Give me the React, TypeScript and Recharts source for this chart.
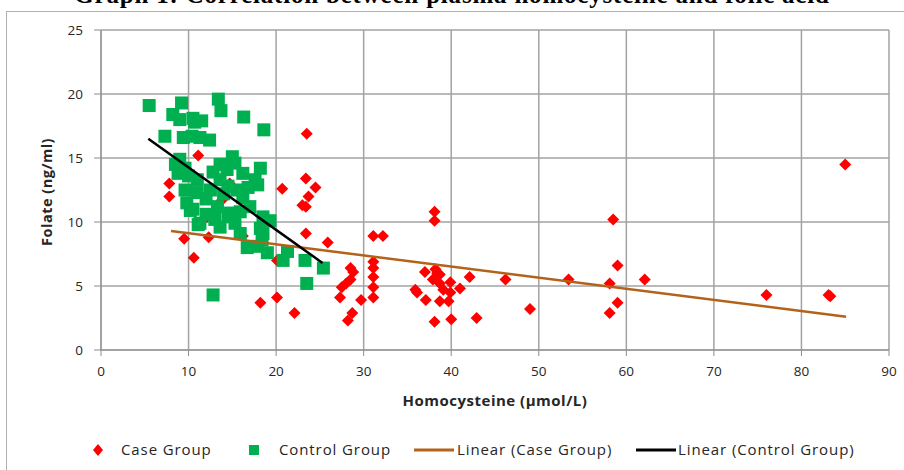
import React from "react";
import { CartesianGrid, Scatter, ScatterChart, XAxis, YAxis } from "recharts";

// homocysteine (x) vs folate (y)
const casePoints: [number, number][] = [
  [7.8, 13.0], [7.8, 12.0], [9.5, 8.7], [10.6, 7.2], [11.1, 15.2], [12.3, 8.8],
  [12.2, 12.1], [13.8, 11.7], [12.1, 10.4], [14.7, 13.0], [16.2, 8.9], [18.2, 3.7],
  [20.1, 4.1], [20.1, 7.0], [22.1, 2.9], [20.7, 12.6], [23.5, 16.9], [23.4, 13.4],
  [24.5, 12.7], [23.7, 12.0], [23.0, 11.3], [23.4, 11.2], [23.4, 9.1], [25.9, 8.4],
  [27.3, 4.1], [27.5, 4.9], [28.0, 5.2], [28.5, 5.5], [28.5, 6.4], [28.8, 6.1],
  [28.7, 2.9], [28.2, 2.3], [29.7, 3.9], [31.1, 8.9], [32.2, 8.9], [31.1, 6.9],
  [31.1, 6.4], [31.1, 5.7], [31.1, 4.9], [31.1, 4.1], [35.9, 4.7], [36.1, 4.5],
  [37.0, 6.1], [37.1, 3.9], [37.9, 5.5], [38.1, 10.8], [38.1, 10.1], [38.2, 6.3],
  [38.4, 6.0], [38.7, 5.9], [38.7, 5.2], [38.7, 3.8], [38.1, 2.2], [39.1, 4.7],
  [39.7, 3.8], [39.9, 5.3], [39.9, 4.5], [40.0, 2.4], [41.0, 4.8], [42.1, 5.7],
  [42.9, 2.5], [46.2, 5.5], [49.0, 3.2], [53.4, 5.5], [58.5, 10.2], [59.0, 6.6],
  [58.1, 5.2], [59.0, 3.7], [58.1, 2.9], [62.1, 5.5], [76.0, 4.3], [83.1, 4.3],
  [83.3, 4.2], [85.0, 14.5],
];

const controlPoints: [number, number][] = [
  [5.5, 19.1], [7.3, 16.7], [8.2, 18.4], [9.2, 19.3], [9.0, 18.0], [10.5, 18.1],
  [10.7, 17.8], [11.5, 17.9], [13.4, 19.6], [13.7, 18.7], [16.3, 18.2], [18.6, 17.2],
  [9.4, 16.6], [10.4, 16.7], [11.3, 16.6], [12.4, 16.4], [8.5, 14.5], [9.0, 14.9],
  [9.6, 14.2], [8.8, 13.8], [10.0, 13.6], [11.0, 13.3], [12.8, 13.9], [13.6, 14.5],
  [14.4, 14.1], [15.0, 15.1], [15.3, 14.6], [16.2, 13.8], [18.2, 14.2], [17.6, 13.3],
  [16.8, 12.7], [16.2, 11.9], [13.6, 13.3], [14.5, 12.8], [9.6, 12.5], [11.0, 12.3],
  [9.8, 11.5], [10.5, 11.0], [12.0, 11.8], [13.3, 11.2], [14.7, 10.7], [15.9, 10.8],
  [17.0, 11.2], [18.5, 10.4], [19.3, 10.1], [11.3, 9.9], [12.0, 10.6], [13.0, 10.2],
  [13.6, 9.6], [14.5, 10.4], [15.3, 9.9], [15.9, 9.1], [17.9, 12.9], [18.2, 9.5],
  [18.5, 9.1], [16.7, 8.0], [17.9, 8.1], [19.0, 7.6], [18.4, 8.6], [20.8, 7.0],
  [21.3, 7.7], [23.3, 7.0], [23.5, 5.2], [25.4, 6.4], [12.8, 4.3], [10.2, 10.9],
  [11.1, 9.8], [14.0, 12.2], [15.5, 12.5], [12.5, 12.5],
];

// end points of the two linear trend lines
const caseTrend: [number, number][] = [[8.0, 9.3], [85.1, 2.6]];
const controlTrend: [number, number][] = [[5.4, 16.5], [25.3, 6.8]];

const xTicks = [0, 10, 20, 30, 40, 50, 60, 70, 80, 90];
const yTicks = [0, 5, 10, 15, 20, 25];

const toRows = (pts: [number, number][]) => pts.map(([x, y]) => ({ x, y }));

const RED = "#ff0000";
const GREEN = "#00b050";
const BROWN = "#b4621a";
const GRID = "#a3a3a3";
const FONT = "'Open Sans', sans-serif";

const Diamond = (props: any) => {
  const { cx, cy } = props;
  if (cx == null || cy == null) return null;
  return (
    <polygon
      points={`${cx},${cy - 6} ${cx + 6},${cy} ${cx},${cy + 6} ${cx - 6},${cy}`}
      fill={RED}
    />
  );
};

const Square = (props: any) => {
  const { cx, cy } = props;
  if (cx == null || cy == null) return null;
  return <rect x={cx - 6.5} y={cy - 6.5} width={13} height={13} fill={GREEN} />;
};

const NoDot = () => <g />;

const tickStyle = { fill: "#262626", fontSize: 13.5, fontFamily: FONT };

const legendText = { position: "absolute" as const, top: -1, letterSpacing: 0.9 };

export default function App() {
  return (
    <div
      style={{
        position: "absolute",
        left: 0,
        top: 0,
        width: 904,
        height: 470,
        overflow: "hidden",
        background: "#fff",
      }}
    >
      <div
        style={{
          position: "absolute",
          left: 6,
          top: 11,
          width: 910,
          height: 480,
          border: "1px solid #b0b0b0",
        }}
      />
      <div
        style={{
          position: "absolute",
          left: 0,
          width: 904,
          top: -20,
          textAlign: "center",
          fontFamily: "'Liberation Serif', serif",
          fontWeight: "bold",
          fontSize: 25,
          letterSpacing: 0.8,
          lineHeight: "30px",
          color: "#000",
          whiteSpace: "nowrap",
        }}
      >
        Graph 1: Correlation between plasma homocysteine and folic acid
      </div>
      <div style={{ position: "absolute", left: 0, top: 0 }}>
        <ScatterChart
          width={904}
          height={470}
          margin={{ top: 30, right: 15, bottom: 90, left: 41 }}
        >
          <CartesianGrid stroke={GRID} strokeWidth={1.5} />
          <XAxis
            type="number"
            dataKey="x"
            domain={[0, 90]}
            ticks={xTicks}
            allowDataOverflow
            height={30}
            tick={tickStyle}
            tickSize={6}
            tickMargin={10}
            stroke="#8c8c8c"
          />
          <YAxis
            type="number"
            dataKey="y"
            domain={[0, 25]}
            ticks={yTicks}
            allowDataOverflow
            width={60}
            tick={tickStyle}
            tickSize={7}
            tickMargin={11}
            stroke="#8c8c8c"
          />
          <Scatter
            name="Case Group"
            data={toRows(casePoints)}
            shape={Diamond}
            isAnimationActive={false}
          />
          <Scatter
            name="Control Group"
            data={toRows(controlPoints)}
            shape={Square}
            isAnimationActive={false}
          />
          <Scatter
            name="Linear (Case Group)"
            data={toRows(caseTrend)}
            line={{ stroke: BROWN, strokeWidth: 2.5 }}
            shape={NoDot}
            isAnimationActive={false}
          />
          <Scatter
            name="Linear (Control Group)"
            data={toRows(controlTrend)}
            line={{ stroke: "#000", strokeWidth: 2.5 }}
            shape={NoDot}
            isAnimationActive={false}
          />
        </ScatterChart>
      </div>
      <div
        style={{
          position: "absolute",
          left: 345,
          top: 390,
          width: 300,
          textAlign: "center",
          fontFamily: FONT,
          fontWeight: "bold",
          fontSize: 15,
          letterSpacing: 0.5,
          color: "#262626",
        }}
      >
        Homocysteine (µmol/L)
      </div>
      <div
        style={{
          position: "absolute",
          left: 46,
          top: 192,
          transform: "translate(-50%, -50%) rotate(-90deg)",
          whiteSpace: "nowrap",
          fontFamily: FONT,
          fontWeight: "bold",
          fontSize: 14.5,
          letterSpacing: 0.5,
          color: "#262626",
        }}
      >
        Folate (ng/ml)
      </div>
      <div
        style={{
          position: "absolute",
          left: 0,
          top: 440,
          width: 904,
          height: 20,
          fontFamily: FONT,
          fontSize: 15,
          color: "#262626",
          whiteSpace: "nowrap",
        }}
      >
        <svg style={{ position: "absolute", left: 92, top: 3 }} width={12} height={14}>
          <polygon points="6,1 11,7 6,13 1,7" fill={RED} />
        </svg>
        <span style={{ ...legendText, left: 121 }}>Case Group</span>
        <svg style={{ position: "absolute", left: 248, top: 4 }} width={12} height={12}>
          <rect x={1} y={1} width={10} height={10} fill={GREEN} />
        </svg>
        <span style={{ ...legendText, left: 279 }}>Control Group</span>
        <svg style={{ position: "absolute", left: 414, top: 8 }} width={40} height={4}>
          <line x1={0} y1={2} x2={40} y2={2} stroke={BROWN} strokeWidth={3} />
        </svg>
        <span style={{ ...legendText, left: 457 }}>Linear (Case Group)</span>
        <svg style={{ position: "absolute", left: 636, top: 8 }} width={40} height={4}>
          <line x1={0} y1={2} x2={40} y2={2} stroke="#000" strokeWidth={3} />
        </svg>
        <span style={{ ...legendText, left: 678 }}>Linear (Control Group)</span>
      </div>
    </div>
  );
}
